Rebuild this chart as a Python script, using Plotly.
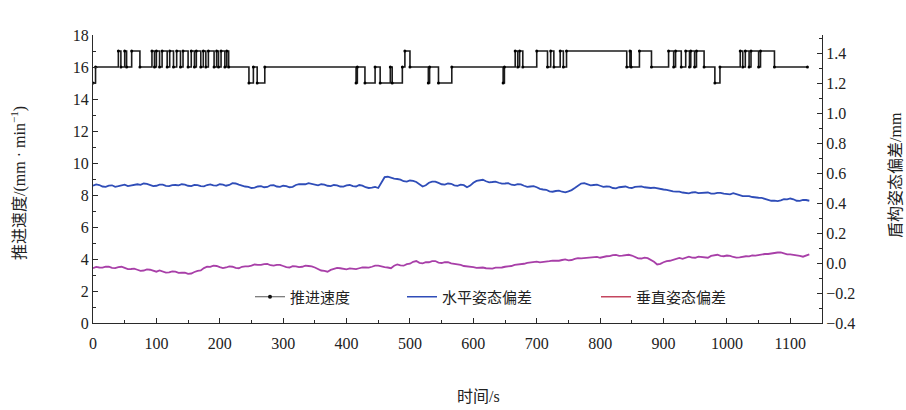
import plotly.graph_objects as go

# ---------------- data ----------------
time_s = list(range(0, 1131, 5))

horizontal_dev = [
    0.515, 0.524, 0.520, 0.510, 0.508, 0.516, 0.518, 0.508, 0.512, 0.519,
    0.522, 0.513, 0.517, 0.526, 0.525, 0.521, 0.530, 0.528, 0.520, 0.512,
    0.515, 0.522, 0.522, 0.514, 0.512, 0.519, 0.520, 0.517, 0.525, 0.523,
    0.515, 0.512, 0.520, 0.519, 0.512, 0.511, 0.520, 0.524, 0.518, 0.516,
    0.525, 0.523, 0.515, 0.520, 0.532, 0.530, 0.522, 0.514, 0.510, 0.508,
    0.500, 0.502, 0.510, 0.512, 0.505, 0.507, 0.518, 0.519, 0.510, 0.508,
    0.515, 0.513, 0.505, 0.508, 0.520, 0.526, 0.527, 0.525, 0.532, 0.528,
    0.520, 0.518, 0.525, 0.523, 0.515, 0.512, 0.520, 0.518, 0.510, 0.509,
    0.518, 0.520, 0.512, 0.510, 0.520, 0.516, 0.505, 0.500, 0.502, 0.507,
    0.500, 0.540, 0.572, 0.575, 0.568, 0.562, 0.560, 0.556, 0.545, 0.542,
    0.550, 0.548, 0.540, 0.522, 0.510, 0.518, 0.535, 0.543, 0.542, 0.534,
    0.525, 0.523, 0.530, 0.528, 0.518, 0.514, 0.522, 0.519, 0.505, 0.516,
    0.535, 0.547, 0.553, 0.555, 0.545, 0.538, 0.540, 0.543, 0.535, 0.529,
    0.530, 0.532, 0.522, 0.519, 0.525, 0.524, 0.515, 0.508, 0.510, 0.512,
    0.505, 0.494, 0.490, 0.488, 0.478, 0.475, 0.480, 0.482, 0.475, 0.471,
    0.478, 0.486, 0.500, 0.518, 0.530, 0.532, 0.522, 0.517, 0.520, 0.522,
    0.515, 0.508, 0.510, 0.509, 0.500, 0.498, 0.505, 0.510, 0.510, 0.503,
    0.500, 0.508, 0.512, 0.511, 0.505, 0.500, 0.500, 0.503, 0.498, 0.492,
    0.490, 0.488, 0.482, 0.477, 0.476, 0.476, 0.470, 0.465, 0.464, 0.470,
    0.472, 0.466, 0.468, 0.473, 0.470, 0.463, 0.462, 0.467, 0.468, 0.462,
    0.460, 0.458, 0.465, 0.461, 0.452, 0.446, 0.447, 0.446, 0.440, 0.435,
    0.435, 0.434, 0.428, 0.418, 0.415, 0.416, 0.412, 0.417, 0.425, 0.424,
    0.430, 0.425, 0.415, 0.414, 0.420, 0.420, 0.415,
]

vertical_dev = [
    -0.035, -0.026, -0.030, -0.031, -0.025, -0.024, -0.032, -0.034, -0.027, -0.025,
    -0.033, -0.041, -0.040, -0.038, -0.045, -0.052, -0.050, -0.043, -0.045, -0.054,
    -0.058, -0.050, -0.055, -0.064, -0.062, -0.056, -0.058, -0.066, -0.065, -0.064,
    -0.072, -0.070, -0.060, -0.052, -0.050, -0.034, -0.025, -0.026, -0.018, -0.020,
    -0.028, -0.034, -0.030, -0.022, -0.025, -0.033, -0.035, -0.025, -0.022, -0.023,
    -0.018, -0.010, -0.012, -0.013, -0.008, -0.006, -0.015, -0.018, -0.013, -0.012,
    -0.020, -0.028, -0.030, -0.021, -0.022, -0.028, -0.025, -0.018, -0.020, -0.022,
    -0.030, -0.041, -0.050, -0.052, -0.058, -0.046, -0.040, -0.032, -0.035, -0.041,
    -0.042, -0.036, -0.040, -0.041, -0.035, -0.029, -0.030, -0.031, -0.025, -0.018,
    -0.018, -0.025, -0.028, -0.030, -0.035, -0.018, -0.010, -0.016, -0.018, -0.008,
    -0.005, 0.008, 0.013, 0.001, -0.002, 0.005, 0.005, 0.012, 0.013, 0.003,
    0.000, 0.006, 0.005, -0.003, -0.005, -0.007, -0.013, -0.020, -0.022, -0.022,
    -0.028, -0.033, -0.032, -0.030, -0.035, -0.039, -0.038, -0.031, -0.032, -0.030,
    -0.025, -0.025, -0.020, -0.012, -0.010, -0.010, -0.005, 0.001, 0.002, 0.008,
    0.009, 0.004, 0.005, 0.010, 0.012, 0.016, 0.013, 0.015, 0.020, 0.024,
    0.018, 0.020, 0.028, 0.033, 0.031, 0.033, 0.038, 0.036, 0.042, 0.041,
    0.035, 0.042, 0.045, 0.046, 0.053, 0.054, 0.048, 0.049, 0.053, 0.055,
    0.050, 0.042, 0.031, 0.030, 0.036, 0.032, 0.020, 0.008, -0.010, -0.006,
    0.005, 0.013, 0.015, 0.022, 0.031, 0.034, 0.028, 0.033, 0.042, 0.036,
    0.035, 0.043, 0.042, 0.036, 0.035, 0.047, 0.053, 0.055, 0.048, 0.045,
    0.050, 0.048, 0.040, 0.036, 0.038, 0.043, 0.045, 0.044, 0.050, 0.049,
    0.053, 0.058, 0.060, 0.060, 0.065, 0.069, 0.070, 0.071, 0.065, 0.058,
    0.058, 0.056, 0.050, 0.048, 0.042, 0.050, 0.058,
]

# advance speed: times where the level changes and the new level
step_t = [0, 4, 40, 44, 50, 53, 61, 74, 93, 97, 100, 105, 109, 117, 121, 127,
          132, 138, 142, 150, 155, 160, 163, 170, 174, 178, 182, 191, 195, 198,
          202, 208, 211, 214, 246, 253, 259, 271, 415, 417, 429, 445, 453, 469,
          472, 488, 492, 500, 529, 531, 545, 566, 647, 649, 666, 670, 673, 678,
          700, 717, 722, 727, 737, 742, 747, 842, 847, 849, 862, 881, 908, 916,
          919, 928, 935, 941, 943, 949, 952, 964, 981, 989, 1021, 1025, 1029,
          1035, 1038, 1050, 1053, 1075, 1127]
step_v = [15, 16, 17, 16, 17, 16, 17, 16, 17, 16, 17, 16, 17, 16, 17, 16,
          17, 16, 17, 16, 17, 16, 17, 16, 17, 16, 17, 16, 17, 16,
          17, 16, 17, 16, 15, 16, 15, 16, 15, 16, 15, 16, 15, 16,
          15, 16, 17, 16, 15, 16, 15, 16, 15, 16, 17, 16, 17, 16,
          17, 16, 17, 16, 17, 16, 17, 16, 17, 16, 17, 16, 17, 16,
          17, 16, 17, 16, 17, 16, 17, 16, 15, 16, 17, 16, 17,
          16, 17, 16, 17, 16, 16]

legend_names = ["推进速度", "水平姿态偏差", "垂直姿态偏差"]
x_ticks = list(range(0, 1101, 100))
left_ticks = list(range(0, 19, 2))
right_ticks = [-0.4, -0.2, 0.0, 0.2, 0.4, 0.6, 0.8, 1.0, 1.2, 1.4]

# ---------------- styles ----------------
SERIF = "Liberation Serif, Noto Sans CJK SC, serif"
AX = "#2a2a2a"
BLUE = "#2f4db8"
PINK = "#a83fa8"
LEG_RED = "#c4465f"

fig = go.Figure()

fig.add_trace(go.Scatter(x=step_t, y=step_v, mode="lines+markers",
                         line=dict(shape="hv", color="#1c1c1c", width=1.6),
                         marker=dict(size=3, color="#000"),
                         showlegend=False, yaxis="y"))
fig.add_trace(go.Scatter(x=time_s, y=horizontal_dev, mode="lines",
                         line=dict(color=BLUE, width=1.8),
                         showlegend=False, yaxis="y2"))
fig.add_trace(go.Scatter(x=time_s, y=vertical_dev, mode="lines",
                         line=dict(color=PINK, width=1.8),
                         showlegend=False, yaxis="y2"))

# legend entries
fig.add_trace(go.Scatter(x=[None], y=[None], mode="lines+markers", name=legend_names[0],
                         line=dict(color="#555", width=1), marker=dict(size=4, color="#111"),
                         legend="legend"))
fig.add_trace(go.Scatter(x=[None], y=[None], mode="lines", name=legend_names[1],
                         line=dict(color=BLUE, width=1.5), legend="legend2"))
fig.add_trace(go.Scatter(x=[None], y=[None], mode="lines", name=legend_names[2],
                         line=dict(color=LEG_RED, width=1.5), legend="legend3"))

tickfont = dict(family=SERIF, size=16, color="#222")
W_PLOT = 729.0
def px_x(p):
    return (p - 93) / W_PLOT
def px_y(p):
    return (323 - p) / 288.0

leg_common = dict(orientation="h", yanchor="middle", xanchor="left",
                  font=dict(family=SERIF, size=15, color="#222"),
                  bgcolor="rgba(0,0,0,0)", borderwidth=0)

fig.update_layout(
    width=906, height=410,
    margin=dict(l=93, r=84, t=35, b=87),
    paper_bgcolor="white", plot_bgcolor="white",
    xaxis=dict(range=[0, 1150], showgrid=False, zeroline=False,
               showline=True, linecolor=AX, linewidth=1.3,
               ticks="inside", ticklen=5, tickcolor=AX, tickvals=x_ticks,
               minor=dict(dtick=50, ticks="inside", ticklen=3, tickcolor=AX),
               tickfont=tickfont, ticklabelstandoff=6),
    yaxis=dict(range=[0, 18], showgrid=False, zeroline=False,
               showline=True, linecolor=AX, linewidth=1.3,
               ticks="inside", ticklen=5, tickcolor=AX, tickvals=left_ticks,
               minor=dict(dtick=1, ticks="inside", ticklen=3, tickcolor=AX),
               tickfont=tickfont),
    yaxis2=dict(range=[-0.4, 1.52], overlaying="y", side="right", anchor="x",
                showgrid=False, zeroline=False,
                showline=True, linecolor=AX, linewidth=1.3,
                ticks="inside", ticklen=5, tickcolor=AX, tickvals=right_ticks,
                tickformat=".1f",
                minor=dict(dtick=0.1, ticks="inside", ticklen=3, tickcolor=AX),
                tickfont=tickfont),
    legend=dict(x=px_x(250), y=px_y(297), **leg_common),
    legend2=dict(x=px_x(402), y=px_y(297), **leg_common),
    legend3=dict(x=px_x(596), y=px_y(297), **leg_common),
    annotations=[
        dict(text="推进速度/(mm · min<sup>−1</sup>)", xref="paper", yref="paper",
             x=px_x(18), y=px_y(183), textangle=-90, showarrow=False,
             xanchor="center", yanchor="middle",
             font=dict(family=SERIF, size=16, color="#222")),
        dict(text="盾构姿态偏差/mm", xref="paper", yref="paper",
             x=px_x(895), y=px_y(175), textangle=-90, showarrow=False,
             xanchor="center", yanchor="middle",
             font=dict(family=SERIF, size=16, color="#222")),
        dict(text="时间/s", xref="paper", yref="paper",
             x=px_x(478), y=px_y(396), showarrow=False,
             xanchor="center", yanchor="middle",
             font=dict(family=SERIF, size=16, color="#222")),
    ],
)

fig.write_html("out.html")
